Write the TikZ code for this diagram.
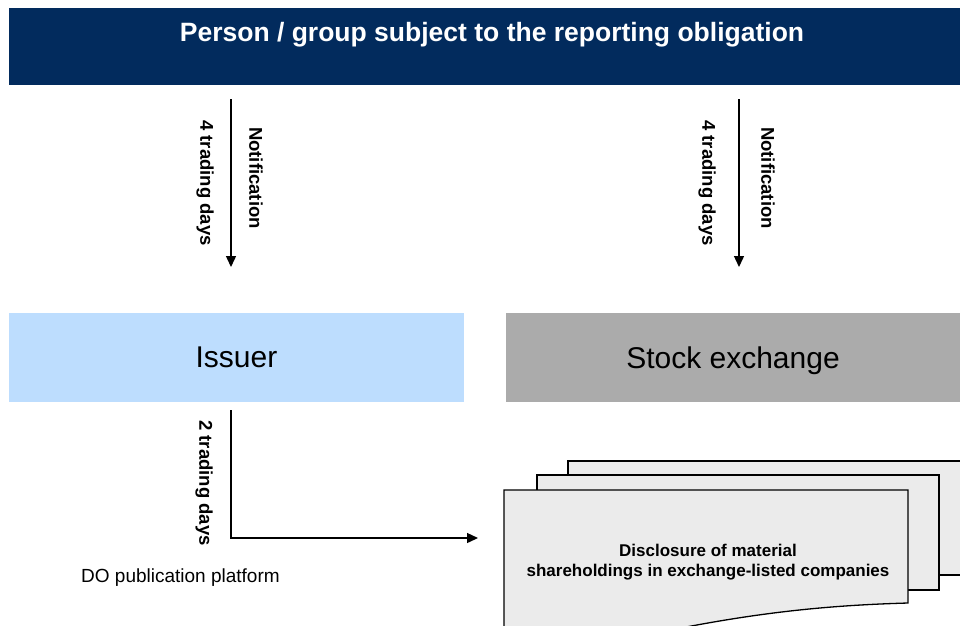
\documentclass[tikz,border=0pt]{standalone}
\usepackage{fontspec}
\setmainfont{Liberation Sans}
\usetikzlibrary{arrows.meta}

\definecolor{navy}{HTML}{022B5D}
\definecolor{issuerblue}{HTML}{BDDDFE}
\definecolor{exgray}{HTML}{ABABAB}
\definecolor{paper}{HTML}{EBEBEB}

\tikzset{
  flow/.style={line width=1.4pt, -{Triangle[length=11pt,width=10pt]}},
  days/.style={rotate=-90, inner sep=0pt, font=\fontsize{18.5}{22}\selectfont\bfseries},
  party/.style={minimum width=455pt, minimum height=89pt, inner sep=0pt, text depth=0pt, font=\fontsize{30}{34}\selectfont},
  page/.style={fill=paper, draw=black, line width=1.3pt},
}

\begin{document}
\begin{tikzpicture}[x=1pt,y=-1pt]
\useasboundingbox (0,0) rectangle (960,625);
\clip (0,0) rectangle (960,625);

% top banner
\node [fill=navy, minimum width=951pt, minimum height=77pt, inner sep=0pt] (banner) at (484.5,46.5) {};
\node [text=white, font=\fontsize{26.5}{30}\selectfont\bfseries] (person) at (492,35) {Person / group subject to the reporting obligation};

% the two recipients
\node [party, fill=issuerblue] (issuer) at (236.5,357.5) {Issuer};
\node [party, fill=exgray, minimum width=454pt] (exchange) at (733,357.5) {Stock exchange};

% notification arrows
\draw [flow] (231,99) -- (231,267);
\node [days] (days1) at (205,183) {4 trading days};
\node [days] (note1) at (256,178) {Notification};
\draw [flow] (739,99) -- (739,267);
\node [days] (days2) at (707,183) {4 trading days};
\node [days] (note2) at (768,178) {Notification};

% publication
\draw [flow] (231,410) -- (231,538) -- (478,538);
\node [days] (days3) at (204,483) {2 trading days};
\node [anchor=west, inner sep=0pt, font=\fontsize{19}{22}\selectfont] (platform) at (81,578) {DO publication platform};

% stack of documents
\draw [page] (568,461) rectangle (975,575);
\draw [page] (537,475) rectangle (939,590);
\draw [page] (504,650) -- (504,490) -- (908,490) -- (908,603) .. controls (800,606) and (720,618) .. (600,645) -- (504,650);
\node [align=center, font=\fontsize{17}{20}\selectfont\bfseries] (disclosure) at (708,562) {Disclosure of material\\shareholdings in exchange-listed companies};
\end{tikzpicture}
\end{document}
